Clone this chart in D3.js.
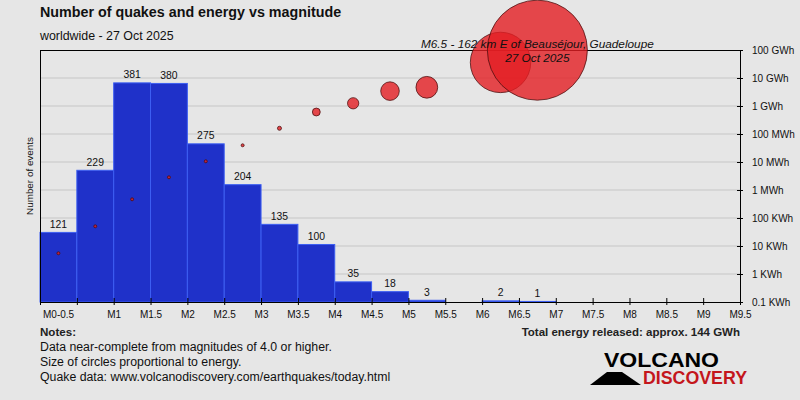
<!DOCTYPE html>
<html>
<head>
<meta charset="utf-8">
<script src="https://cdn.jsdelivr.net/npm/d3@7"></script>
<style>
  html, body { margin: 0; padding: 0; background: #e6e6e6; }
  svg { display: block; font-family: "Liberation Sans", Arial, sans-serif; }
</style>
</head>
<body>
<svg id="chart" width="800" height="400"></svg>
<script>
// ---- data ----
const binStarts = [0, 0.5, 1, 1.5, 2, 2.5, 3, 3.5, 4, 4.5, 5, 5.5, 6, 6.5];
const counts    = [121, 229, 381, 380, 275, 204, 135, 100, 35, 18, 3, 0, 2, 1];
const energyWh  = [5.5e3, 5.06e4, 4.65e5, 2.84e6, 1.06e7, 3.95e7, 1.6e8, 6.1e8, 1.25e9, 3.4e9, 4.66e9, 0, 3.6e10, 9.86e10];
const xTickValues = [0,0.5,1,1.5,2,2.5,3,3.5,4,4.5,5,5.5,6,6.5,7,7.5,8,8.5,9,9.5];
const xTickLabels = ["M0-0.5","","M1","M1.5","M2","M2.5","M3","M3.5","M4","M4.5","M5","M5.5","M6","M6.5","M7","M7.5","M8","M8.5","M9","M9.5"];
const energyTickValues = [1e2,1e3,1e4,1e5,1e6,1e7,1e8,1e9,1e10,1e11];
const energyTickLabels = ["0.1 KWh","1 KWh","10 KWh","100 KWh","1 MWh","10 MWh","100 MWh","1 GWh","10 GWh","100 GWh"];
const titleText = "Number of quakes and energy vs magnitude";
const subtitleText = "worldwide - 27 Oct 2025";
const annotationLines = ["M6.5 - 162 km E of Beauséjour, Guadeloupe", "27 Oct 2025"];
const noteLines = ["Data near-complete from magnitudes of 4.0 or higher.", "Size of circles proportional to energy.", "Quake data: www.volcanodiscovery.com/earthquakes/today.html"];
const totalText = "Total energy released: approx. 144 GWh";

// ---- layout ----
const L = 40, R = 740, T = 50, B = 302;
const svg = d3.select("#chart");

const x = d3.scaleLinear().domain([0, 9.5]).range([L, R]);
const yCount = d3.scaleLinear().domain([0, d3.max(counts) * 1.15]).range([B, T]);
const yEnergy = d3.scaleLog().domain([1e2, 1e11]).range([B, T]);
const maxE = d3.max(energyWh);
const rScale = e => Math.max(1.5, 50 * Math.sqrt(e / maxE));

// background
svg.append("rect").attr("width", 800).attr("height", 400).attr("fill", "#e6e6e6");

// gridlines
svg.append("g").selectAll("line")
  .data(energyTickValues.slice(1, -1))
  .join("line")
  .attr("x1", L).attr("x2", R)
  .attr("y1", d => yEnergy(d)).attr("y2", d => yEnergy(d))
  .attr("stroke", "#c6c6c6").attr("stroke-width", 1);

// bars
const bins = binStarts.map((b, i) => ({ b, c: counts[i], e: energyWh[i] }));
svg.append("g").selectAll("rect")
  .data(bins.filter(d => d.c > 0))
  .join("rect")
  .attr("x", d => x(d.b))
  .attr("width", d => x(d.b + 0.5) - x(d.b))
  .attr("y", d => yCount(d.c))
  .attr("height", d => yCount(0) - yCount(d.c))
  .attr("fill", "#1f31c9")
  .attr("stroke", "#3d5ff2")
  .attr("stroke-width", 1);

// bar labels
svg.append("g").selectAll("text")
  .data(bins.filter(d => d.c > 0))
  .join("text")
  .attr("x", d => x(d.b + 0.25))
  .attr("y", d => yCount(d.c) - 4.5)
  .attr("text-anchor", "middle")
  .attr("font-size", 10.4)
  .attr("fill", "#111")
  .text(d => d.c);

// frame: top line and left line
svg.append("line").attr("x1", L).attr("x2", R).attr("y1", T + 0.5).attr("y2", T + 0.5).attr("stroke", "#000");
svg.append("line").attr("x1", L + 0.5).attr("x2", L + 0.5).attr("y1", T).attr("y2", B).attr("stroke", "#000");

// bottom axis
const xAxis = d3.axisBottom(x).tickValues(xTickValues)
  .tickFormat((d, i) => xTickLabels[i]).tickSizeInner(3).tickSizeOuter(0).tickPadding(6);
const gx = svg.append("g").attr("transform", `translate(0,${B})`).call(xAxis);
gx.select(".domain").attr("stroke", "#000");
gx.selectAll(".tick line").attr("stroke", "#000").attr("y1", -4);
gx.selectAll(".tick text").attr("font-size", 10).attr("font-family", "Liberation Sans, Arial, sans-serif").attr("fill", "#111");
gx.selectAll(".tick text").filter((d, i) => i === 0)
  .attr("text-anchor", "start").attr("dx", 2.5);

// right axis
const yAxisR = d3.axisRight(yEnergy).tickValues(energyTickValues)
  .tickFormat((d, i) => energyTickLabels[i]).tickSizeInner(3).tickSizeOuter(0).tickPadding(9);
const gy = svg.append("g").attr("transform", `translate(${R},0)`).call(yAxisR);
gy.select(".domain").attr("stroke", "#000");
gy.selectAll(".tick line").attr("stroke", "#000").attr("x1", -3);
gy.selectAll(".tick text").attr("font-size", 10).attr("font-family", "Liberation Sans, Arial, sans-serif").attr("fill", "#111");

// left axis title
svg.append("text")
  .attr("transform", `translate(33,${(T + B) / 2}) rotate(-90)`)
  .attr("text-anchor", "middle")
  .attr("font-size", 9.9)
  .attr("fill", "#111")
  .text("Number of events");

// energy circles
svg.append("g").selectAll("circle")
  .data(bins.filter(d => d.e > 0))
  .join("circle")
  .attr("cx", d => x(d.b + 0.25))
  .attr("cy", d => yEnergy(d.e))
  .attr("r", d => rScale(d.e))
  .attr("fill", "rgb(228,30,35)")
  .attr("fill-opacity", 0.8)
  .attr("stroke", "#4a0f0f")
  .attr("stroke-opacity", 0.85)
  .attr("stroke-width", 0.9);

// annotation of largest quake
const biggest = bins.reduce((a, b) => (b.e > a.e ? b : a));
svg.append("g").selectAll("text")
  .data(annotationLines)
  .join("text")
  .attr("x", x(biggest.b + 0.25))
  .attr("y", (d, i) => 48 + i * 14)
  .attr("text-anchor", "middle")
  .attr("font-style", "italic")
  .attr("font-size", 11.8)
  .attr("fill", "#111")
  .text(d => d);

// titles
svg.append("text").attr("x", L).attr("y", 17.3)
  .attr("font-weight", "bold").attr("font-size", 14.3).attr("fill", "#111").text(titleText);
svg.append("text").attr("x", L).attr("y", 39.5)
  .attr("font-size", 12.4).attr("fill", "#111").text(subtitleText);

// notes
svg.append("text").attr("x", L).attr("y", 335.5)
  .attr("font-weight", "bold").attr("font-size", 11.6).attr("fill", "#222").text("Notes:");
svg.append("g").selectAll("text")
  .data(noteLines)
  .join("text")
  .attr("x", L).attr("y", (d, i) => 351 + i * 15)
  .attr("font-size", 12.3).attr("fill", "#111")
  .text(d => d);

svg.append("text").attr("x", R).attr("y", 335.5)
  .attr("text-anchor", "end")
  .attr("font-weight", "bold").attr("font-size", 11.5).attr("fill", "#222").text(totalText);

// logo
const logo = svg.append("g");
logo.append("path")
  .attr("d", "M590,385 L607,372 L622,372 L641,385 Z")
  .attr("fill", "#000");
logo.append("text").attr("x", 604).attr("y", 366.7)
  .attr("font-weight", "bold").attr("font-size", 21)
  .attr("textLength", 115).attr("lengthAdjust", "spacingAndGlyphs")
  .attr("fill", "#000").text("VOLCANO");
logo.append("text").attr("x", 643).attr("y", 384)
  .attr("font-weight", "bold").attr("font-size", 18)
  .attr("textLength", 104).attr("lengthAdjust", "spacingAndGlyphs")
  .attr("fill", "#c4161c").text("DISCOVERY");
</script>
</body>
</html>
